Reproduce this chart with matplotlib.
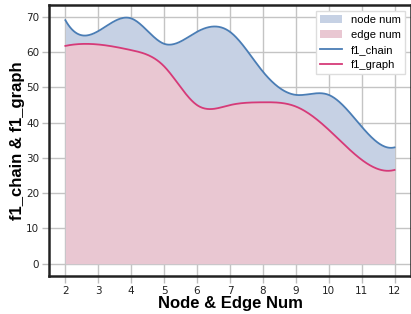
#!/usr/bin/env python
"""Smoothed f1_chain / f1_graph area chart against node & edge count."""

import matplotlib
matplotlib.use("Agg")
import matplotlib.pyplot as plt
import numpy as np
from matplotlib.lines import Line2D
from matplotlib.patches import Patch

node_edge_num = [2, 3, 4, 5, 6, 7, 8, 9, 10, 11, 12]
f1_chain = [69.1, 66.0, 69.6, 62.4, 65.8, 65.8, 54.5, 47.9, 47.9, 38.9, 33.0]
f1_graph = [61.8, 62.2, 60.6, 56.0, 45.0, 45.0, 45.8, 44.6, 38.0, 29.5, 26.6]
legend_labels = ["node num", "edge num", "f1_chain", "f1_graph"]

CHAIN_LINE = "#4a7db5"
CHAIN_FILL = "#c6d1e4"
GRAPH_LINE = "#d63a78"
GRAPH_FILL = "#e9c7d2"
LABEL_FONT = ["Liberation Sans", "DejaVu Sans"]


def not_a_knot_spline(x, y, x_new):
    """Cubic spline through (x, y) with not-a-knot ends, evaluated at x_new."""
    x = np.asarray(x, dtype=float)
    y = np.asarray(y, dtype=float)
    n = len(x)
    h = np.diff(x)
    a = np.zeros((n, n))
    b = np.zeros(n)
    a[0, 0], a[0, 1], a[0, 2] = h[1], -(h[0] + h[1]), h[0]
    a[-1, -3], a[-1, -2], a[-1, -1] = h[-1], -(h[-2] + h[-1]), h[-2]
    for i in range(1, n - 1):
        a[i, i - 1] = h[i - 1]
        a[i, i] = 2 * (h[i - 1] + h[i])
        a[i, i + 1] = h[i]
        b[i] = 6 * ((y[i + 1] - y[i]) / h[i] - (y[i] - y[i - 1]) / h[i - 1])
    m = np.linalg.solve(a, b)
    idx = np.clip(np.searchsorted(x, x_new) - 1, 0, n - 2)
    x0, x1 = x[idx], x[idx + 1]
    hh = h[idx]
    return (
        m[idx] * (x1 - x_new) ** 3 / (6 * hh)
        + m[idx + 1] * (x_new - x0) ** 3 / (6 * hh)
        + (y[idx] / hh - m[idx] * hh / 6) * (x1 - x_new)
        + (y[idx + 1] / hh - m[idx + 1] * hh / 6) * (x_new - x0)
    )


def main() -> None:
    xs = np.linspace(node_edge_num[0], node_edge_num[-1], 400)
    chain_smooth = not_a_knot_spline(node_edge_num, f1_chain, xs)
    graph_smooth = not_a_knot_spline(node_edge_num, f1_graph, xs)

    figure = plt.figure(figsize=(4.11, 3.14), dpi=100)
    axis = figure.add_axes([0.119, 0.121, 0.881, 0.863])
    axis.set_axisbelow(True)
    axis.grid(color="#c4c4c4", linewidth=1.0)

    axis.fill_between(xs, 0, chain_smooth, color=CHAIN_FILL, linewidth=0, zorder=2)
    axis.fill_between(xs, 0, graph_smooth, color=GRAPH_FILL, linewidth=0, zorder=3)
    axis.plot(xs, chain_smooth, color=CHAIN_LINE, linewidth=1.3, zorder=4)
    axis.plot(xs, graph_smooth, color=GRAPH_LINE, linewidth=1.3, zorder=4)

    axis.set_xlim(1.5, 12.5)
    axis.set_ylim(-3.5, 73.4)
    axis.set_xticks(node_edge_num)
    axis.set_yticks(np.arange(0, 71, 10))
    axis.tick_params(axis="both", colors="#bdbdbd", labelcolor="#222222", labelsize=7.5,
                     length=5, width=1, pad=2)
    for side in ("left", "bottom", "top", "right"):
        axis.spines[side].set_color("#222222")
        axis.spines[side].set_linewidth(1.8)

    axis.set_xlabel("Node & Edge Num", fontsize=12, fontweight="bold", family=LABEL_FONT, labelpad=0)
    axis.set_ylabel("f1_chain & f1_graph", fontsize=12, fontweight="bold", family=LABEL_FONT, labelpad=1)

    handles = [
        Patch(facecolor=CHAIN_FILL, edgecolor="none"),
        Patch(facecolor=GRAPH_FILL, edgecolor="none"),
        Line2D([], [], color=CHAIN_LINE, linewidth=1.3),
        Line2D([], [], color=GRAPH_LINE, linewidth=1.3),
    ]
    legend = axis.legend(
        handles, legend_labels, loc="upper right", frameon=True,
        fancybox=False, edgecolor="#dddddd", framealpha=1.0, borderaxespad=0.5,
        borderpad=0.4, labelspacing=0.45, handlelength=2.0, handletextpad=0.8,
        prop={"family": LABEL_FONT, "size": 8},
    )
    legend.set_zorder(5)

    figure.savefig("out.png", dpi=100, facecolor="white")
    plt.close(figure)


if __name__ == "__main__":
    main()
